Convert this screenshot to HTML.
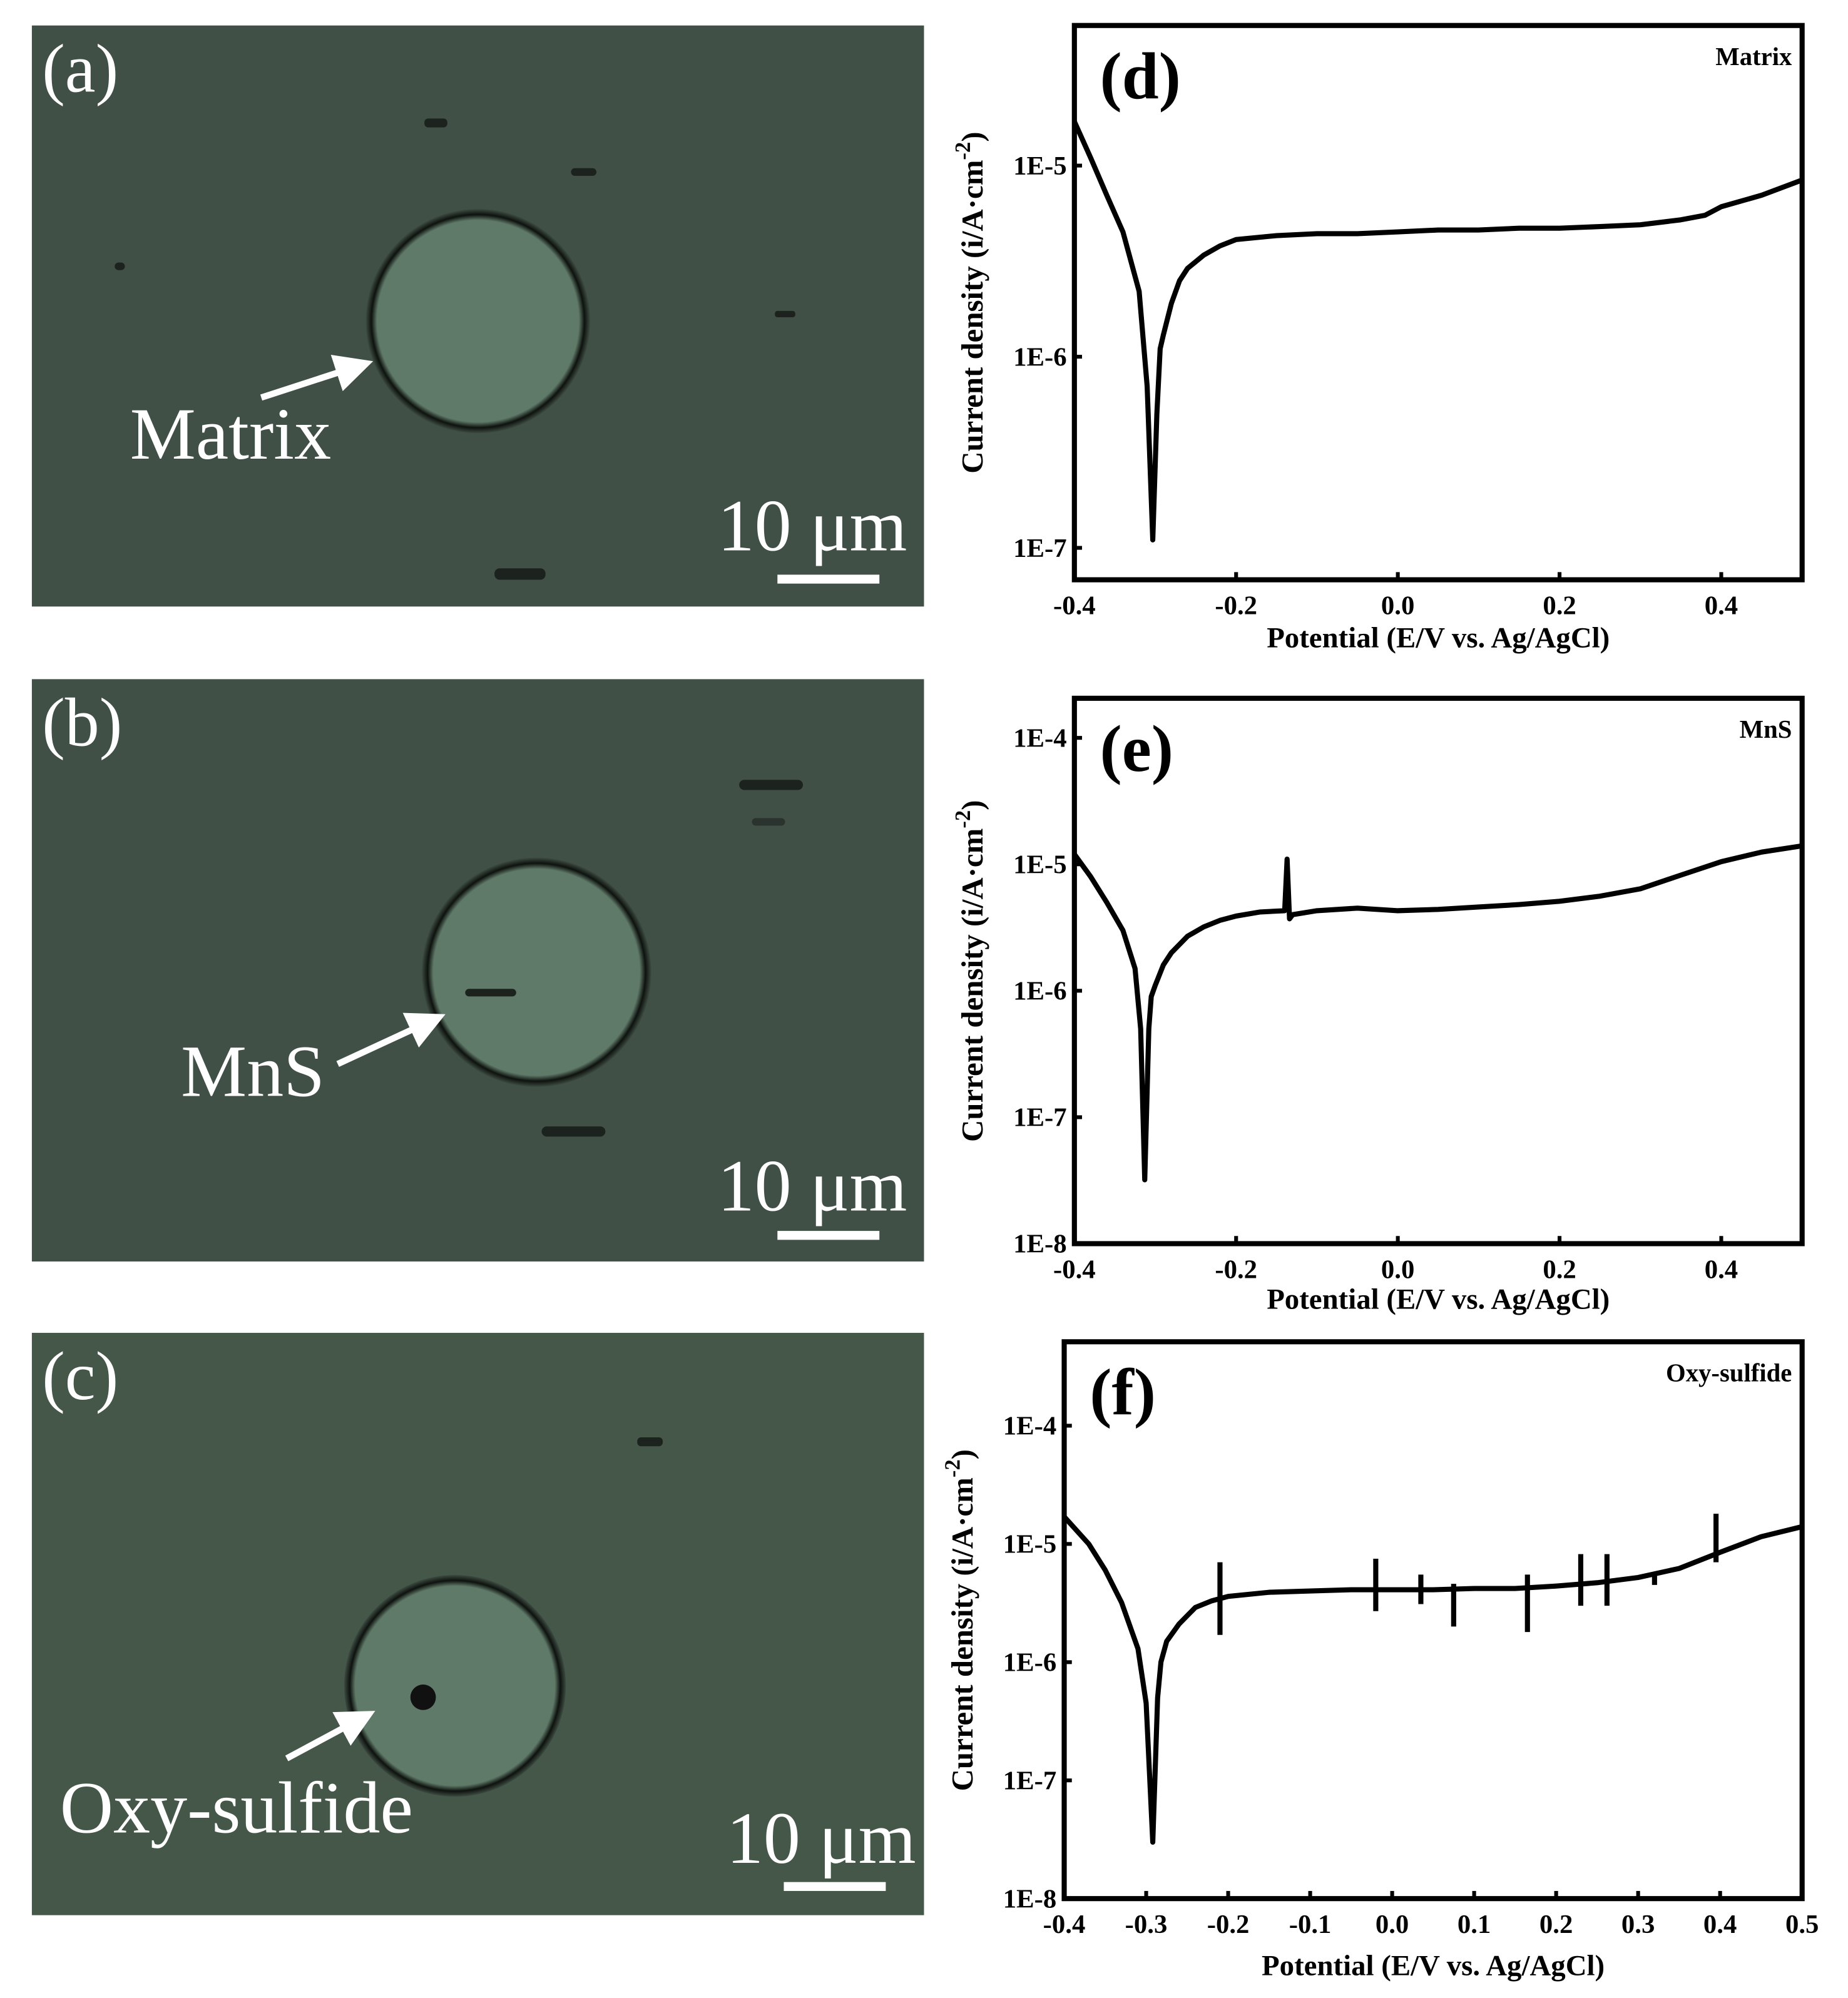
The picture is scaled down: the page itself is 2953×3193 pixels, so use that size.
<!DOCTYPE html>
<html><head><meta charset="utf-8"><style>
html,body{margin:0;padding:0;background:#fff;}
svg{display:block;}
text{font-family:"Liberation Serif",serif;}
</style></head><body>
<svg id="fig" width="2953" height="3193" viewBox="0 0 1450 1568" preserveAspectRatio="none" xmlns="http://www.w3.org/2000/svg">
<defs>
<radialGradient id="cg" cx="50%" cy="50%" r="50%">
<stop offset="0.9" stop-color="#5f7a68"/><stop offset="0.95" stop-color="#0e120f"/><stop offset="1" stop-color="#3c4b41"/>
</radialGradient>
<marker id="ah" markerWidth="6" markerHeight="6" refX="5" refY="3" orient="auto"><path d="M0,0 L6,3 L0,6 Z" fill="#fff"/></marker>
</defs>
<g>
<rect x="25" y="20" width="700" height="456" fill="#405046"/>
<circle cx="375" cy="252" r="88" fill="url(#cg)"/>
<rect x="333" y="93" width="18" height="7" rx="3" fill="#1c221e"/><rect x="448" y="132" width="20" height="6" rx="3" fill="#1c221e"/>
<rect x="90" y="206" width="8" height="6" rx="3" fill="#1c221e"/><rect x="608" y="244" width="16" height="5" rx="2" fill="#1c221e"/>
<rect x="388" y="446" width="40" height="9" rx="4" fill="#1c221e"/>
<text x="33" y="72" font-size="54" fill="#fff">(a)</text>
<line x1="205" y1="312" x2="288" y2="285" stroke="#fff" stroke-width="5" marker-end="url(#ah)"/>
<text x="102" y="360" font-size="58" fill="#fff">Matrix</text>
<text x="563" y="432" font-size="58" fill="#fff">10 μm</text>
<rect x="610" y="451" width="80" height="7" fill="#fff"/>
</g>
<g>
<rect x="25" y="533" width="700" height="457" fill="#405046"/>
<circle cx="421" cy="763" r="90" fill="url(#cg)"/>
<rect x="580" y="612" width="50" height="8" rx="4" fill="#1c221e"/><rect x="590" y="642" width="26" height="6" rx="3" fill="#2a332d"/>
<rect x="425" y="884" width="50" height="8" rx="4" fill="#1c221e"/><rect x="365" y="776" width="40" height="6" rx="3" fill="#1c221e"/>
<text x="33" y="585" font-size="54" fill="#fff">(b)</text>
<line x1="265" y1="835" x2="345" y2="798" stroke="#fff" stroke-width="5" marker-end="url(#ah)"/>
<text x="142" y="860" font-size="58" fill="#fff">MnS</text>
<text x="563" y="950" font-size="58" fill="#fff">10 μm</text>
<rect x="610" y="966" width="80" height="7" fill="#fff"/>
</g>
<g>
<rect x="25" y="1046" width="700" height="457" fill="#455749"/>
<circle cx="357" cy="1323" r="87" fill="url(#cg)"/>
<rect x="500" y="1128" width="20" height="7" rx="3" fill="#1c221e"/>
<circle cx="332" cy="1332" r="10" fill="#111"/>
<text x="33" y="1098" font-size="54" fill="#fff">(c)</text>
<line x1="225" y1="1380" x2="290" y2="1345" stroke="#fff" stroke-width="5" marker-end="url(#ah)"/>
<text x="47" y="1438" font-size="58" fill="#fff">Oxy-sulfide</text>
<text x="570" y="1462" font-size="58" fill="#fff">10 μm</text>
<rect x="615" y="1477" width="80" height="7" fill="#fff"/>
</g>
<g id="charts"></g>
</svg>
<script>
const dPot=[-0.4,-0.38,-0.36,-0.34,-0.32,-0.31,-0.303,-0.298,-0.294,-0.29,-0.28,-0.27,-0.26,-0.24,-0.22,-0.2,-0.15,-0.1,-0.05,0,0.05,0.1,0.15,0.2,0.25,0.3,0.35,0.38,0.4,0.45,0.5];
const dCur=[1.7e-5,1.1e-5,7e-6,4.5e-6,2.2e-6,7e-7,1.1e-7,5e-7,1.1e-6,1.3e-6,1.9e-6,2.5e-6,2.9e-6,3.4e-6,3.8e-6,4.1e-6,4.3e-6,4.4e-6,4.4e-6,4.5e-6,4.6e-6,4.6e-6,4.7e-6,4.7e-6,4.8e-6,4.9e-6,5.2e-6,5.5e-6,6.1e-6,7.0e-6,8.4e-6];
const ePot=[-0.4,-0.38,-0.36,-0.34,-0.325,-0.318,-0.313,-0.308,-0.305,-0.3,-0.29,-0.28,-0.26,-0.24,-0.22,-0.2,-0.17,-0.14,-0.137,-0.134,-0.13,-0.1,-0.05,0,0.05,0.1,0.15,0.2,0.25,0.3,0.35,0.4,0.45,0.5];
const eCur=[1.2e-5,8e-6,5e-6,3e-6,1.5e-6,5e-7,3.2e-8,5e-7,9e-7,1.1e-6,1.6e-6,2.0e-6,2.7e-6,3.2e-6,3.6e-6,3.9e-6,4.2e-6,4.3e-6,1.1e-5,3.7e-6,4.0e-6,4.3e-6,4.5e-6,4.3e-6,4.4e-6,4.6e-6,4.8e-6,5.1e-6,5.6e-6,6.4e-6,8.2e-6,1.05e-5,1.25e-5,1.4e-5];
const fPot=[-0.4,-0.37,-0.35,-0.33,-0.31,-0.3,-0.292,-0.286,-0.282,-0.275,-0.26,-0.24,-0.22,-0.2,-0.15,-0.1,-0.05,0,0.05,0.1,0.15,0.2,0.25,0.3,0.35,0.4,0.45,0.5];
const fCur=[1.7e-5,1.0e-5,6e-6,3.2e-6,1.3e-6,4.5e-7,3e-8,5e-7,1.0e-6,1.5e-6,2.1e-6,2.9e-6,3.3e-6,3.6e-6,3.9e-6,4.0e-6,4.1e-6,4.1e-6,4.1e-6,4.2e-6,4.2e-6,4.4e-6,4.7e-6,5.2e-6,6.2e-6,8.5e-6,1.15e-5,1.4e-5];
const fSpikePot=[-0.21,-0.02,0.035,0.075,0.165,0.23,0.262,0.32,0.395];
const fSpikeHi=[7e-6,7.5e-6,5.5e-6,4.6e-6,5.5e-6,8.2e-6,8.2e-6,5.6e-6,1.8e-5];
const fSpikeLo=[1.7e-6,2.7e-6,3.1e-6,2.0e-6,1.8e-6,3.0e-6,3.0e-6,4.5e-6,7e-6];
const ticksA=[-0.4,-0.2,0.0,0.2,0.4];
const ticksF=[-0.4,-0.3,-0.2,-0.1,0.0,0.1,0.2,0.3,0.4,0.5];
const yTicksD=[-5,-6,-7];
const yTicksE=[-4,-5,-6,-7,-8];

const NS="http://www.w3.org/2000/svg";
const root=document.getElementById('charts');
function mk(tag,attrs,parent){const e=document.createElementNS(NS,tag);for(const k in attrs)e.setAttribute(k,attrs[k]);(parent||root).appendChild(e);return e;}

function panel(id,x0,x1,y0,y1,yTop,yBot,pot,cur,xt,yt,letter,tag,xtitleY,spikes){
  const g=mk('g',{});
  
  
  const X=v=>x0+(v+0.4)/0.9*(x1-x0);
  const Y=v=>y0+(yTop-Math.log10(v))/(yTop-yBot)*(y1-y0);
  const YL=l=>y0+(yTop-l)/(yTop-yBot)*(y1-y0);
  const fr=mk('rect',{x:x0,y:y0,width:x1-x0,height:y1-y0,fill:'none',stroke:'#000','stroke-width':4},g);
  
  
  xt.forEach(v=>{
    mk('line',{x1:X(v),x2:X(v),y1:y1,y2:y1-6,stroke:'#000','stroke-width':3},g);
    const t=mk('text',{x:X(v),y:y1+27,'font-size':21,'font-weight':'bold','text-anchor':'middle'},g);
    t.textContent=v.toFixed(1);
    
    
  });
  yt.forEach(l=>{
    mk('line',{x1:x0,x2:x0+6,y1:YL(l),y2:YL(l),stroke:'#000','stroke-width':3},g);
    const t=mk('text',{x:x0-6,y:YL(l)+7,'font-size':21,'font-weight':'bold','text-anchor':'end'},g);
    t.textContent='1E'+l;
    
    
  });
  let d='';pot.forEach((p,i)=>{d+=(i?'L':'M')+X(p).toFixed(1)+','+Y(cur[i]).toFixed(1);});
  const ln=mk('path',{d:d,fill:'none',stroke:'#000','stroke-width':4,'stroke-linejoin':'round'},g);
  
  
  if(spikes){spikes[0].forEach((p,i)=>{
    const s=mk('line',{x1:X(p),x2:X(p),y1:Y(spikes[1][i]),y2:Y(spikes[2][i]),stroke:'#000','stroke-width':4},g);
    
    
  });}
  const lt=mk('text',{x:x0+20,y:y0+57,'font-size':52,'font-weight':'bold'},g);lt.textContent=letter;
  
  
  const tg=mk('text',{x:x1-8,y:y0+31,'font-size':20,'font-weight':'bold','text-anchor':'end'},g);tg.textContent=tag;
  
  
  const xtt=mk('text',{x:(x0+x1)/2,y:xtitleY,'font-size':23,'font-weight':'bold','text-anchor':'middle'},g);
  xtt.textContent='Potential (E/V vs. Ag/AgCl)';
  
  
  const cy=(y0+y1)/2, cx=x0-72;
  const ytt=mk('text',{x:cx,y:cy,'font-size':24,'font-weight':'bold','text-anchor':'middle',transform:`rotate(-90 ${cx} ${cy})`},g);
  ytt.innerHTML='Current density (i/A·cm<tspan dy="-10" font-size="17">-2</tspan><tspan dy="10">)</tspan>';
  
  
}
panel('d',843,1414,20,455,-4.267,-7.167,dPot,dCur,ticksA,yTicksD,'(d)','Matrix',508);
panel('e',843,1414,548,976,-3.687,-8,ePot,eCur,ticksA,yTicksE,'(e)','MnS',1027);
panel('f',835,1414,1053,1490,-3.29,-8,fPot,fCur,ticksF,yTicksE,'(f)','Oxy-sulfide',1550,[fSpikePot,fSpikeHi,fSpikeLo]);
</script>
</body></html>
